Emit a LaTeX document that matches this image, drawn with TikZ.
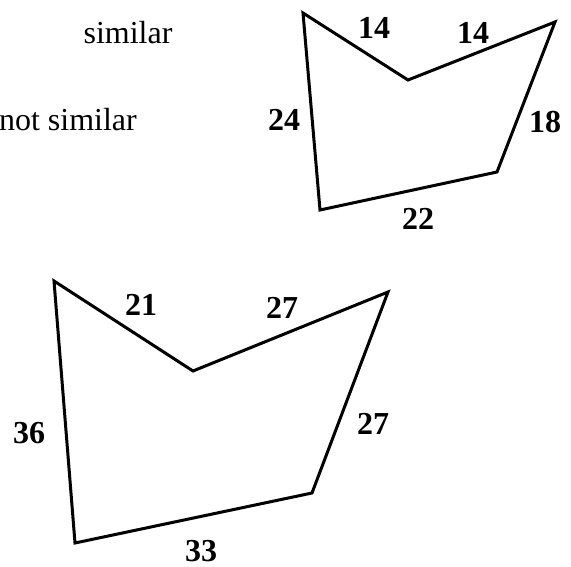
\documentclass[tikz,border=0pt]{standalone}
\usepackage{fontspec}
\setmainfont{Liberation Serif}
\usepackage{tikz}

\begin{document}
\begin{tikzpicture}[x=1pt, y=-1pt, every node/.style={inner sep=0pt, font=\fontsize{32}{38}\selectfont},
  side/.style={anchor=base, font=\fontsize{32}{38}\selectfont\bfseries},
  shape line/.style={draw, line width=3pt}]
\useasboundingbox (0,0) rectangle (571,567);

% Texts
\node (simtext) [anchor=base] at (128,44) {similar};
\node (nottext) [anchor=base east] at (137,131) {not similar};

% Small shape
\coordinate (s1) at (303,13);
\coordinate (s2) at (408,80);
\coordinate (s3) at (555,22);
\coordinate (s4) at (497,172);
\coordinate (s5) at (320,210);
\draw[shape line] (s1) -- (s2) -- (s3) -- (s4) -- (s5) -- cycle;

\node (sa) [side] at (374,39) {14};
\node (sb) [side] at (473,44) {14};
\node (sc) [side] at (545,133) {18};
\node (sd) [side] at (418,230) {22};
\node (se) [side] at (284,131) {24};

% Big shape
\coordinate (b1) at (54,281);
\coordinate (b2) at (193,371);
\coordinate (b3) at (388,292);
\coordinate (b4) at (312,493);
\coordinate (b5) at (75,543);
\draw[shape line] (b1) -- (b2) -- (b3) -- (b4) -- (b5) -- cycle;

\node (ba) [side] at (141,315) {21};
\node (bb) [side] at (282,318) {27};
\node (bc) [side] at (373,434) {27};
\node (bd) [side] at (201,561) {33};
\node (be) [side] at (29,443) {36};

\end{tikzpicture}
\end{document}
